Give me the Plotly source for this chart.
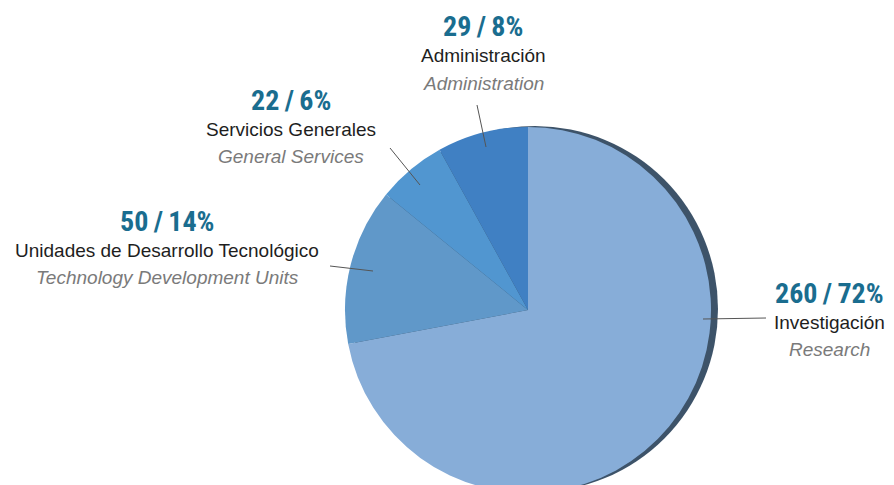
import plotly.graph_objects as go

# staff by area (count / share)
areas_es = ["Investigación", "Unidades de Desarrollo Tecnológico", "Servicios Generales", "Administración"]
areas_en = ["Research", "Technology Development Units", "General Services", "Administration"]
counts = [260, 50, 22, 29]
shares = [72, 14, 6, 8]
colors = ["#87add8", "#6098c9", "#5196d0", "#4080c3"]

W, H = 894, 485
OFF = 8  # page body margin in the browser


def px(x, y):
    # screen pixel position -> paper coords (no plot margins)
    return (x - OFF) / W, 1 - (y - OFF) / H


fig = go.Figure()

# pie centre / radius on screen
cx, cy, r = 528, 310, 183
dx0, dy0 = px(cx - r, cy + r)
dx1, dy1 = px(cx + r, cy - r)
fig.add_trace(go.Pie(
    labels=areas_en,
    values=counts,
    sort=False,
    direction="clockwise",
    rotation=0,
    marker=dict(colors=colors, line=dict(width=0)),
    textinfo="none",
    hoverinfo="label+value+percent",
    showlegend=False,
    domain=dict(x=[dx0, dx1], y=[max(dy0, 0), min(dy1, 1)]),
))

# dark rim behind the pie (3D edge)
x0, y0 = px(cx - r + 7, cy + r - 1)
x1, y1 = px(cx + r + 7, cy - r - 1)
fig.add_shape(type="circle", xref="paper", yref="paper", x0=x0, y0=y0, x1=x1, y1=y1,
              fillcolor="#3d5369", line=dict(width=0), layer="below")

# label blocks: (center x, number y, leader line from, leader line to)
label_pos = [
    (829, 293, (766, 318), (703, 319)),
    (167, 221, (330, 266), (373, 271)),
    (291, 100, (390, 148), (420, 185)),
    (483, 27, (477, 105), (486, 147)),
]

for i, (lx, ly, p0, p1) in enumerate(label_pos):
    ax_, ay_ = px(lx, ly)
    fig.add_annotation(x=ax_, y=ay_, xref="paper", yref="paper", showarrow=False,
                       xanchor="center", yanchor="middle",
                       text="<b>%d\u2009/\u2009%d%%</b>" % (counts[i], shares[i]),
                       font=dict(family="Liberation Sans Narrow, Roboto Condensed, Arial", size=28, color="#1a6d8f"))
    ax_, ay_ = px(lx, ly + 29)
    fig.add_annotation(x=ax_, y=ay_, xref="paper", yref="paper", showarrow=False,
                       xanchor="center", yanchor="middle",
                       text=areas_es[i],
                       font=dict(family="Liberation Sans, Arial", size=19, color="#1e1e1e"))
    ax_, ay_ = px(lx, ly + 56)
    fig.add_annotation(x=ax_, y=ay_, xref="paper", yref="paper", showarrow=False,
                       xanchor="center", yanchor="middle",
                       text="<i>%s</i>" % areas_en[i],
                       font=dict(family="Liberation Sans, Arial", size=19, color="#7a7a7a"))
    a0, b0 = px(*p0)
    a1, b1 = px(*p1)
    fig.add_shape(type="line", xref="paper", yref="paper", x0=a0, y0=b0, x1=a1, y1=b1,
                  line=dict(color="#555555", width=1))

fig.update_layout(
    width=W, height=H,
    margin=dict(l=0, r=0, t=0, b=0),
    paper_bgcolor="white",
    plot_bgcolor="white",
)

fig.write_html("out.html")
